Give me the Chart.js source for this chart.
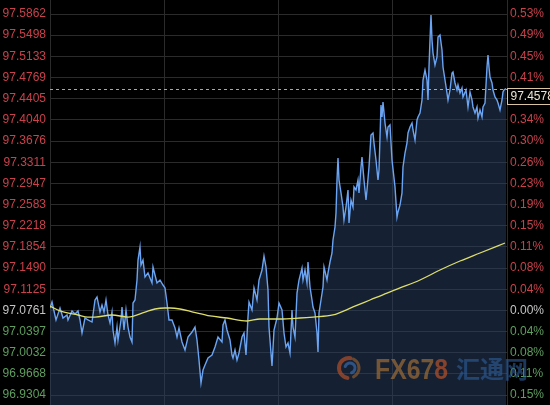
<!DOCTYPE html>
<html><head><meta charset="utf-8">
<script src="https://cdn.jsdelivr.net/npm/chart.js@4/dist/chart.umd.min.js"></script>
<style>html,body{margin:0;padding:0;background:#000;}#wrap{width:550px;height:405px;position:relative;}</style>
</head><body><div id="wrap"><canvas id="c" width="550" height="405"></canvas></div>
<script>
// ---- tick labels ----
const priceLabels = ['97.5862','97.5498','97.5133','97.4769','97.4405','97.4040','97.3676','97.3311','97.2947','97.2583','97.2218','97.1854','97.1490','97.1125','97.0761','97.0397','97.0032','96.9668','96.9304'];
const pctLabels = ['0.53%','0.49%','0.45%','0.41%','0.38%','0.34%','0.30%','0.26%','0.23%','0.19%','0.15%','0.11%','0.08%','0.04%','0.00%','0.04%','0.08%','0.11%','0.15%'];
const baseIndex = 97.0761;
const lastPrice = 97.4578;
const lastPriceLabel = '97.4578';
const yTop = 97.6103;
const yBottom = 96.9133;
const sessionMinutes = 457;
const timeGrid = [0, 114.25, 228.5, 342.75, 457];

// ---- price series (minute index, index value) ----
const minutes = [
 0,2,6,10,13,17,18,22,25,28,
 30,32,33,35,38,42,45,47,48,50,
 52,54,56,58,60,62,63,65,67,68,
 71,72,74,76,78,80,82,83,85,87,
 88,90,91,93,95,98,102,103,107,110,
 113,115,117,119,122,125,127,129,132,135,
 138,142,145,147,149,151,153,155,158,162,
 165,168,172,173,175,177,180,182,183,185,
 187,189,192,194,196,198,199,202,204,207,
 209,212,214,216,218,219,222,224,227,229,
 232,234,236,238,240,242,243,245,247,249,
 252,253,255,257,258,260,262,263,265,267,
 268,269,271,273,274,277,278,280,282,283,
 285,286,287,288,289,291,293,294,296,298,
 299,301,303,304,306,308,309,311,312,314,
 316,317,319,321,323,324,326,328,329,331,
 332,333,335,337,338,340,342,345,347,348,
 350,352,353,355,357,358,360,362,363,365,
 367,368,370,372,373,375,377,378,379,380,
 381,382,383,385,387,388,390,392,393,395,
 397,398,400,402,403,405,407,408,410,412,
 413,416,418,420,422,423,425,427,428,430,
 432,433,435,437,438,439,440,442,443,445,
 447,448,450,452,453,454,456];
const usdIndex = [
 97.0802,97.0906,97.0596,97.0802,97.0630,97.0682,97.0596,97.0751,97.0699,97.0751,
 97.0596,97.0372,97.0458,97.0630,97.0596,97.0561,97.0940,97.0992,97.0906,97.0733,
 97.0854,97.0733,97.0940,97.0682,97.0544,97.0733,97.0424,97.0200,97.0475,97.0252,
 97.0596,97.0820,97.0424,97.0768,97.0475,97.0303,97.0217,97.0888,97.0940,97.1284,
 97.1628,97.1852,97.1542,97.1628,97.1336,97.1405,97.1233,97.1508,97.1233,97.1284,
 97.1198,97.1147,97.0888,97.0596,97.0596,97.0458,97.0303,97.0458,97.0217,97.0079,
 97.0303,97.0389,97.0475,97.0252,96.9907,96.9512,96.9735,96.9821,96.9942,96.9993,
 97.0131,97.0303,97.0217,97.0510,97.0596,97.0424,97.0252,96.9993,96.9942,97.0079,
 96.9907,97.0028,97.0303,97.0372,96.9993,97.0647,97.0906,97.0768,97.1147,97.0940,
 97.1284,97.1456,97.1697,97.1508,97.1112,97.0475,96.9804,97.0424,97.0630,97.0888,
 97.0768,97.0372,97.0131,97.0200,97.0028,97.0768,97.0475,97.0303,97.1060,97.1284,
 97.1491,97.1284,97.1456,97.1233,97.1594,97.1164,97.0940,97.0820,97.0716,97.0372,
 97.0045,97.0716,97.0940,97.1164,97.1508,97.1284,97.1405,97.1594,97.1749,97.1973,
 97.2196,97.2437,97.3005,97.3384,97.3005,97.2782,97.2541,97.2317,97.2541,97.2833,
 97.2265,97.2661,97.2541,97.2885,97.2833,97.3005,97.2782,97.3229,97.3401,97.3005,
 97.2661,97.2833,97.3229,97.3780,97.3814,97.3642,97.3349,97.3005,97.3177,97.4296,
 97.4089,97.4348,97.3986,97.3745,97.3917,97.3952,97.3349,97.2885,97.2368,97.2455,
 97.2575,97.2782,97.3229,97.3470,97.3642,97.3814,97.3917,97.3986,97.3866,97.3694,
 97.4038,97.4089,97.4158,97.4382,97.4726,97.4898,97.4726,97.4382,97.4950,97.5415,
 97.5845,97.5415,97.5191,97.4984,97.5122,97.5466,97.5501,97.5243,97.4950,97.4726,
 97.4502,97.4382,97.4554,97.4847,97.4864,97.4675,97.4554,97.4640,97.4502,97.4589,
 97.4434,97.4554,97.4262,97.4520,97.4382,97.4262,97.4158,97.4262,97.4072,97.4210,
 97.4089,97.4262,97.4330,97.4950,97.5156,97.4950,97.4778,97.4675,97.4554,97.4434,
 97.4382,97.4330,97.4210,97.4382,97.4520,97.4554,97.4578];

// ---- moving average ----
const maMinutes = [0,10,28,38,45,62,78,95,105,115,120,130,143,160,177,197,210,230,250,263,283,303,320,337,350,370,390,410,430,455];
const maValues = [97.0837,97.0751,97.0682,97.0647,97.0647,97.0682,97.0647,97.0733,97.0785,97.0802,97.0802,97.0785,97.0733,97.0665,97.0630,97.0579,97.0613,97.0613,97.0630,97.0647,97.0682,97.0820,97.0940,97.1060,97.1147,97.1284,97.1456,97.1611,97.1749,97.1921];

const priceTicks = priceLabels.map(Number);
const FONT = 'Arial, "Liberation Sans", sans-serif';
function tickColor(v){
  if (Math.abs(v - baseIndex) < 1e-6) return '#c4c4c4';
  return v > baseIndex ? '#c8414b' : '#5e9e5e';
}

const overlay = {
  id: 'overlay',
  afterDatasetsDraw(chart){
    const {ctx, chartArea} = chart;
    const y = Math.round(chart.scales.y.getPixelForValue(lastPrice)) + 0.5;
    ctx.save();
    ctx.strokeStyle = '#e89a3c';
    ctx.lineWidth = 1;
    ctx.setLineDash([3,3]);
    ctx.beginPath(); ctx.moveTo(chartArea.left, y); ctx.lineTo(chartArea.right, y); ctx.stroke();
    ctx.restore();
  },
  afterDraw(chart){
    const {ctx, chartArea} = chart;
    const y = chart.scales.y.getPixelForValue(lastPrice);
    ctx.save();
    // price box
    const bx = chartArea.right + 0.5, by = Math.round(y) - 0.5;
    ctx.fillStyle = '#000';
    ctx.fillRect(bx, by, 60, 16);
    ctx.strokeStyle = '#d8c4a0';
    ctx.lineWidth = 1;
    ctx.strokeRect(bx, by, 60, 16);
    ctx.fillStyle = '#ece4d4';
    ctx.font = '12px ' + FONT;
    ctx.textBaseline = 'middle';
    ctx.textAlign = 'left';
    ctx.fillText(lastPriceLabel, bx + 3, by + 8.5);
    // watermark
    ctx.globalAlpha = 0.7;
    const cx = 349, cy = 368;
    ctx.lineCap = 'round';
    ctx.strokeStyle = '#b0502a'; ctx.lineWidth = 4;
    ctx.beginPath(); ctx.arc(cx, cy, 10, 0.55*Math.PI, 1.55*Math.PI); ctx.stroke();
    ctx.strokeStyle = '#8a5a30'; ctx.lineWidth = 3;
    ctx.beginPath(); ctx.arc(cx, cy, 10, 1.65*Math.PI, 2.35*Math.PI); ctx.stroke();
    ctx.strokeStyle = '#3a68a6'; ctx.lineWidth = 3;
    ctx.beginPath(); ctx.arc(cx+1, cy, 5, 1.1*Math.PI, 2.4*Math.PI); ctx.stroke();
    ctx.font = 'bold 30px ' + FONT;
    ctx.textBaseline = 'alphabetic';
    const full = ctx.measureText('FX678').width;
    const sx = 73 / full;
    ctx.save();
    ctx.translate(375, 379);
    ctx.scale(sx, 1);
    ctx.fillStyle = '#9c6c38';
    ctx.fillText('FX67', 0, 0);
    const w = ctx.measureText('FX67').width;
    ctx.fillStyle = '#b5512a';
    ctx.fillText('8', w, 0);
    ctx.restore();
    ctx.globalAlpha = 0.6;
    ctx.font = 'bold 24px "Noto Sans CJK SC", sans-serif';
    ctx.fillStyle = '#2f5d9a';
    ctx.fillText('汇通网', 456, 378);
    ctx.restore();
  }
};

new Chart(document.getElementById('c'), {
  type: 'line',
  data: {
    datasets: [
      {
        label: 'MA',
        data: maMinutes.map((t,i)=>({x:t, y:maValues[i]})),
        xAxisID: 'x', yAxisID: 'y',
        borderColor: '#dede6a',
        borderWidth: 1.3,
        pointRadius: 0,
        tension: 0.4,
        cubicInterpolationMode: 'monotone',
        fill: false,
        order: 0
      },
      {
        label: 'USD Index',
        data: minutes.map((t,i)=>({x:t, y:usdIndex[i]})),
        xAxisID: 'x', yAxisID: 'y',
        borderColor: '#6ba4f2',
        borderWidth: 1.4,
        pointRadius: 0,
        tension: 0,
        fill: 'start',
        backgroundColor: 'rgba(42,66,102,0.5)',
        order: 1
      }
    ]
  },
  options: {
    responsive: false,
    animation: false,
    devicePixelRatio: 1,
    layout: { padding: 0 },
    plugins: { legend: { display: false }, tooltip: { enabled: false } },
    scales: {
      x: {
        type: 'linear', min: 0, max: sessionMinutes,
        ticks: { display: false },
        grid: { color: '#2b2b2b', drawTicks: false },
        border: { display: false },
        afterBuildTicks: s => { s.ticks = timeGrid.map(v=>({value:v})); },
        afterFit: s => { s.height = 0; s.paddingLeft = 0; s.paddingRight = 0; }
      },
      y: {
        type: 'linear', position: 'left', min: yBottom, max: yTop,
        ticks: {
          autoSkip: false, padding: 4,
          font: { size: 12, family: FONT },
          color: c => tickColor(c.tick.value),
          callback: (v, i) => priceLabels[i]
        },
        grid: { color: '#2b2b2b', drawTicks: false },
        border: { display: false },
        afterBuildTicks: s => { s.ticks = priceTicks.map(v=>({value:v})); },
        afterFit: s => { s.width = 50; s.paddingTop = 0; s.paddingBottom = 0; }
      },
      yR: {
        type: 'linear', position: 'right', min: yBottom, max: yTop,
        ticks: {
          autoSkip: false, padding: 3,
          font: { size: 12, family: FONT },
          color: c => tickColor(c.tick.value),
          callback: (v, i) => pctLabels[i]
        },
        grid: { display: false, drawTicks: false },
        border: { display: false },
        afterBuildTicks: s => { s.ticks = priceTicks.map(v=>({value:v})); },
        afterFit: s => { s.width = 43; s.paddingTop = 0; s.paddingBottom = 0; }
      }
    }
  },
  plugins: [overlay]
});
</script>
</body></html>
